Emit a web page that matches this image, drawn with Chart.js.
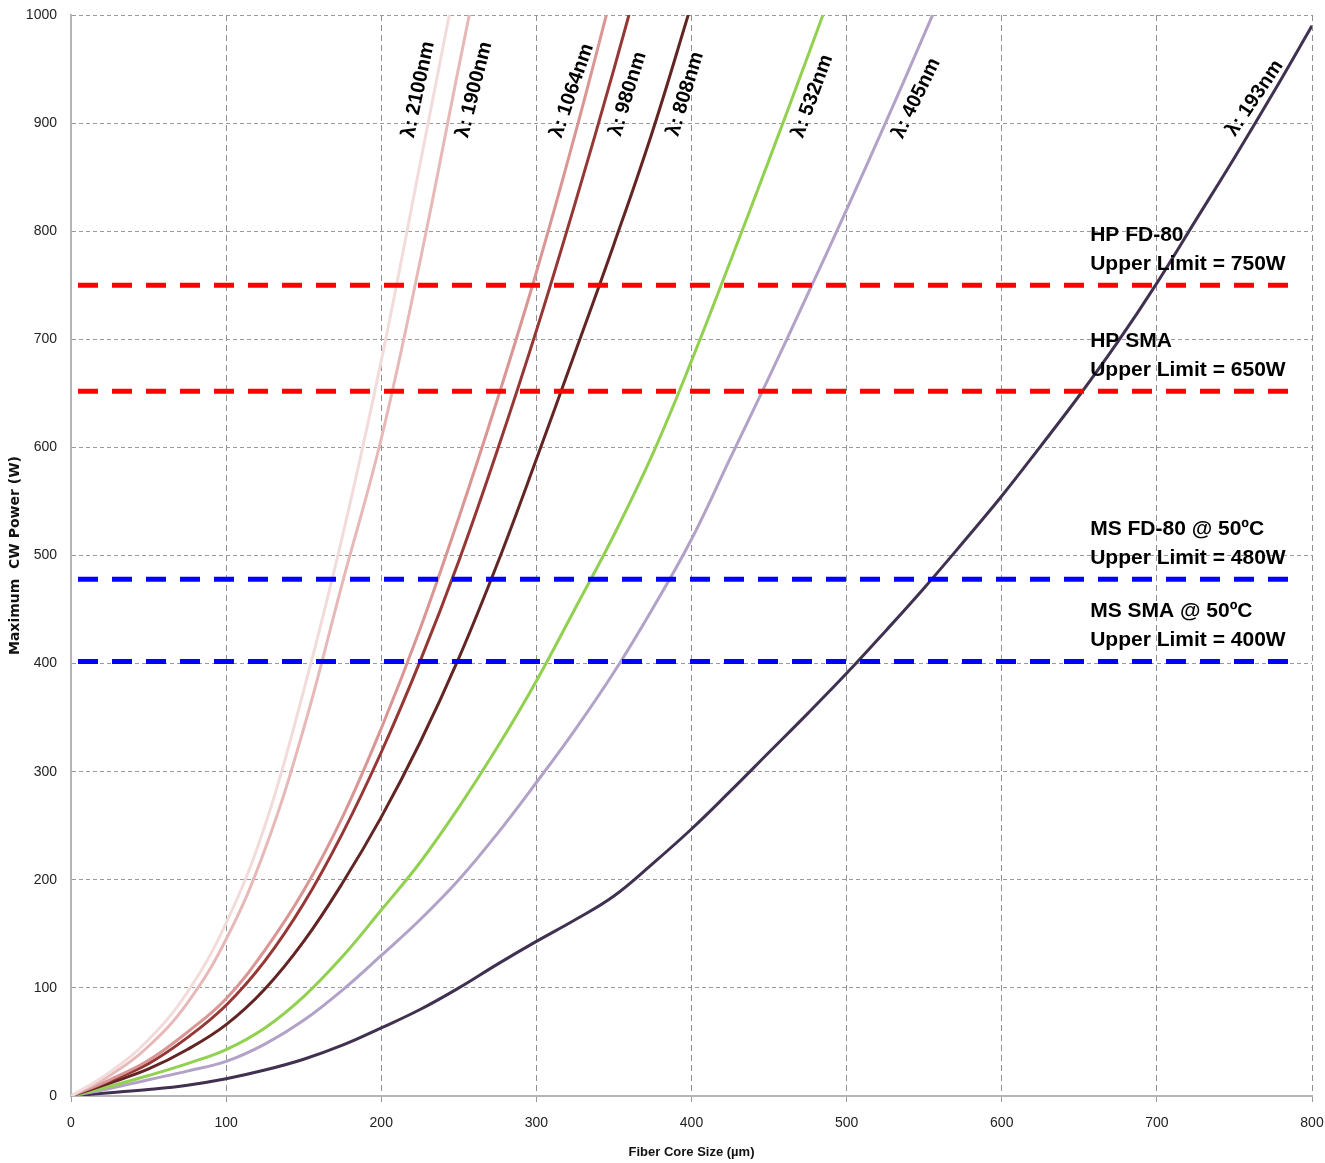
<!DOCTYPE html>
<html>
<head>
<meta charset="utf-8">
<title>Maximum CW Power vs Fiber Core Size</title>
<script src="https://cdn.jsdelivr.net/npm/chart.js@4.4.1/dist/chart.umd.min.js"></script>
<style>
  html, body { margin: 0; padding: 0; background: #fff; }
  #powerChart { display: block; }
</style>
</head>
<body>
<canvas id="powerChart" width="1325" height="1163"></canvas>
<script>
// fiber core sizes (µm) sampled every 25
const coreSizes = [0, 25, 50, 75, 100, 125, 150, 175, 200, 225, 250, 275, 300, 325, 350, 375, 400,
                   425, 450, 475, 500, 525, 550, 575, 600, 625, 650, 675, 700, 725, 750, 775, 800];

// max CW power (W) per wavelength (runs past 1000 where the curve leaves the frame)
const power2100 = [0, 22, 52, 96, 160, 250, 375, 518, 680, 862, 1045];
const power1900 = [0, 19, 46, 86, 145, 228, 340, 475, 608, 772, 952, 1130];
const power1064 = [0, 15, 33, 59, 90, 135, 190, 258, 340, 432, 535, 645, 762, 890, 1027];
const power980  = [0, 14, 30, 54, 84, 125, 178, 243, 318, 402, 495, 598, 708, 826, 950, 1080];
const power808  = [0, 12, 25, 43, 66, 99, 143, 197, 258, 327, 405, 493, 589, 688, 788, 893, 1010];
const power532  = [0, 9, 19, 30, 43, 63, 92, 129, 172, 216, 267, 323, 384, 451, 519, 594, 680, 772, 866, 962, 1060];
const power405  = [0, 7, 15, 23, 32, 48, 70, 98, 130, 163, 200, 243, 290, 339, 392, 451, 515, 590, 665, 742, 820, 900, 982, 1065];
const power193  = [0, 3, 6, 10, 16, 24, 34, 47, 63, 80, 100, 122, 143, 163, 185, 215, 247, 282, 318, 354, 391,
                   430, 470, 512, 555, 601, 648, 698, 752, 810, 868, 928, 990];

const wavelengths = ['2100nm', '1900nm', '1064nm', '980nm', '808nm', '532nm', '405nm', '193nm'];
const wavelengthPower = [power2100, power1900, power1064, power980, power808, power532, power405, power193];
const wavelengthColors = ['#f2dcdb', '#e6b9b8', '#d99694', '#953735', '#632523', '#92d050', '#b3a2c7', '#403151'];

// curve label anchors (core size, power) and angles
const labelSizes  = [224, 260, 323, 359, 396, 478, 545, 763];
const labelPowers = [931, 931, 930, 927, 927, 925, 923, 923];
const labelAngles = [78, 76, 71, 73, 73, 70, 64, 56];

// connector limits
const limitNames  = ['HP FD-80', 'HP SMA', 'MS FD-80 @ 50ºC', 'MS SMA @ 50ºC'];
const limitTexts  = ['Upper Limit = 750W', 'Upper Limit = 650W', 'Upper Limit = 480W', 'Upper Limit = 400W'];
const limitValues = [750, 652, 478, 402];
const limitColors = ['#ff0000', '#ff0000', '#0000ff', '#0000ff'];
const limitRange  = [4.5, 786];
const limitTextAt = 657;

const xTicks = [0, 100, 200, 300, 400, 500, 600, 700, 800];
const yTicks = [0, 100, 200, 300, 400, 500, 600, 700, 800, 900, 1000];

let tickFont = {family: "'Liberation Sans Narrow', 'Liberation Sans', sans-serif", size: 14};

let limitDatasets = limitValues.map((v, i) => ({
  label: limitTexts[i],
  data: limitRange.map(x => ({x: x, y: v})),
  borderColor: limitColors[i],
  borderWidth: 5,
  borderDash: [20, 14],
  borderCapStyle: 'butt',
  pointRadius: 0,
  clip: 0
}));

let curveDatasets = wavelengths.map((w, i) => ({
  label: w,
  data: wavelengthPower[i].map((p, k) => ({x: coreSizes[k], y: p})),
  borderColor: wavelengthColors[i],
  borderWidth: 3,
  pointRadius: 0,
  tension: 0.4,
  clip: 0
}));

let labelPlugin = {
  id: 'chartLabels',
  afterDatasetsDraw: (chart) => {
    let ctx = chart.ctx,
        xs = chart.scales.x,
        ys = chart.scales.y;

    ctx.save();
    ctx.fillStyle = '#000';
    ctx.font = "bold 20px 'Liberation Sans', Arial, sans-serif";
    ctx.textAlign = 'center';
    ctx.textBaseline = 'middle';
    wavelengths.forEach((w, i) => {
      ctx.save();
      ctx.translate(xs.getPixelForValue(labelSizes[i]), ys.getPixelForValue(labelPowers[i]));
      ctx.rotate(-labelAngles[i] * Math.PI / 180);
      ctx.fillText('λ: ' + w, 0, 0);
      ctx.restore();
    });

    ctx.textAlign = 'left';
    ctx.font = "bold 21px 'Liberation Sans', Arial, sans-serif";
    limitValues.forEach((v, i) => {
      let px = xs.getPixelForValue(limitTextAt),
          py = ys.getPixelForValue(v);
      ctx.fillText(limitNames[i], px, py - 50);
      ctx.fillText(limitTexts[i], px, py - 21);
    });
    ctx.restore();
  }
};

let chart = new Chart(document.getElementById('powerChart'), {
  type: 'line',
  data: {datasets: limitDatasets.concat(curveDatasets)},
  options: {
    responsive: false,
    animation: false,
    devicePixelRatio: 1,
    layout: {padding: {left: 0, top: 15, right: 13, bottom: 0}},
    plugins: {legend: {display: false}, tooltip: {enabled: false}},
    scales: {
      x: {
        type: 'linear',
        min: 0,
        max: 800,
        afterBuildTicks: (axis) => { axis.ticks = xTicks.map(v => ({value: v})); },
        afterFit: (axis) => {
          axis.height = 67;
          axis.paddingLeft = 0;
          axis.paddingRight = 0;
        },
        grid: {color: '#8f8f8f', tickLength: 6, tickColor: '#9a9a9a', tickBorderDash: []},
        border: {color: '#b5b5b5', width: 2, dash: [6, 4]},
        ticks: {color: '#222', font: tickFont, padding: 13, maxRotation: 0, callback: v => v},
        title: {display: true, text: 'Fiber Core Size (µm)', color: '#111',
                font: {family: "'Liberation Sans Narrow', 'Liberation Sans', sans-serif", size: 13, weight: 'bold'},
                padding: {top: 0, bottom: 3}}
      },
      y: {
        type: 'linear',
        min: 0,
        max: 1000,
        afterBuildTicks: (axis) => { axis.ticks = yTicks.map(v => ({value: v})); },
        afterFit: (axis) => {
          axis.width = 71;
          axis.paddingTop = 0;
          axis.paddingBottom = 0;
        },
        grid: {color: '#9a9a9a', drawTicks: false},
        border: {color: '#b5b5b5', width: 2, dash: [4, 3]},
        ticks: {color: '#222', font: tickFont, padding: 14, callback: v => v},
        title: {display: true, text: 'Maximum  CW Power (W)', color: '#111',
                font: {family: "'DejaVu Sans', Verdana, sans-serif", size: 14, weight: 'bold'},
                padding: {top: 7, bottom: 0}}
      }
    }
  },
  plugins: [labelPlugin]
});
</script>
</body>
</html>
